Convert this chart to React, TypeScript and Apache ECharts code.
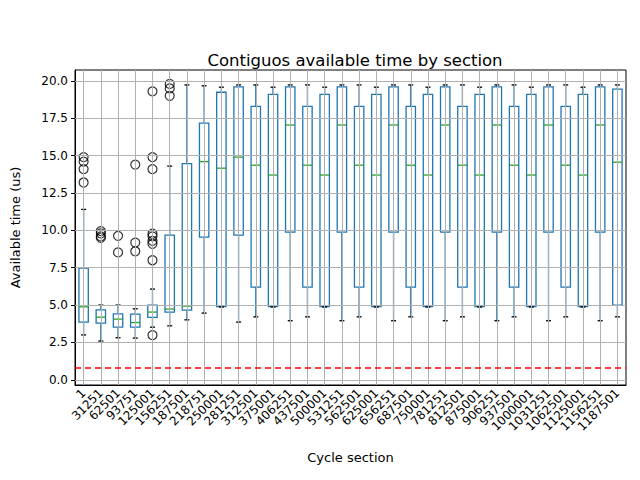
import React, { useEffect, useRef } from "react";
import * as echarts from "echarts";

const categories = ["1","31251","62501","93751","125001","156251","187501","218751","250001","281251","312501","375001","406251","437501","500001","531251","562501","625001","656251","687501","750001","781251","812501","875001","906251","937501","1000001","1031251","1062501","1125001","1156251","1187501"];

const A = [3.95, 9.88, 17.05, 19.6, 19.73];
const B = [4.21, 6.2, 14.36, 18.3, 19.73];
const C = [4.87, 4.9, 13.7, 19.1, 19.58];
// [low whisker, Q1, median, Q3, high whisker]
const boxes = [
  [3.0, 3.86, 4.88, 7.47, 11.4],
  [2.59, 3.79, 4.19, 4.68, 5.0],
  [2.81, 3.52, 4.06, 4.41, 5.0],
  [2.79, 3.52, 3.83, 4.39, 4.75],
  [3.52, 4.17, 4.53, 5.0, 6.07],
  [3.61, 4.53, 4.73, 9.68, 14.3],
  [4.01, 4.66, 4.93, 14.47, 19.73],
  [4.46, 9.54, 14.6, 17.17, 19.67],
  [4.87, 4.9, 14.16, 19.24, 19.58],
  [3.86, 9.68, 14.9, 19.6, 19.73],
  B, C, A, B, C, A, B, C, A, B, C, A, B, C, A, B, C, A, B, C, A,
  [4.21, 5.0, 14.56, 19.45, 19.73],
];
const outliers = [
  [0, 13.2], [0, 14.1], [0, 14.6], [0, 14.9],
  [1, 9.5], [1, 9.6], [1, 9.8], [1, 9.95],
  [2, 9.63], [2, 8.52],
  [3, 14.4], [3, 9.18], [3, 8.6],
  [4, 19.3], [4, 14.9], [4, 14.1], [4, 9.77], [4, 9.6], [4, 9.3], [4, 9.1], [4, 8.0], [4, 2.99],
  [5, 19.8], [5, 19.5], [5, 19.0],
];
const yTicks = [0, 2.5, 5, 7.5, 10, 12.5, 15, 17.5, 20];
const threshold = 0.8;

export default function App() {
  const ref = useRef<HTMLDivElement>(null);
  useEffect(() => {
    const chart = echarts.init(ref.current!, null, { renderer: "svg" });
    const font = "DejaVu Sans";
    chart.setOption({
      animation: false,
      textStyle: { fontFamily: font },
      title: { text: "Contiguos available time by section", left: 350, top: 47, textAlign: "center",
        textStyle: { fontSize: 16.5, fontWeight: "normal", color: "#000", fontFamily: font } },
      grid: { left: 75, right: 14, top: 70, bottom: 95, show: true, borderColor: "#000", borderWidth: 1, backgroundColor: "transparent" },
      xAxis: {
        type: "category", data: categories, boundaryGap: true,
        name: "Cycle section", nameLocation: "middle", nameGap: 66,
        nameTextStyle: { fontSize: 13, color: "#000" },
        axisLine: { lineStyle: { color: "#000" }, onZero: false },
        axisTick: { alignWithLabel: true, lineStyle: { color: "#000" }, length: 4 },
        axisLabel: { rotate: 45, fontSize: 12, color: "#000", interval: 0, margin: 6 },
        splitLine: { show: false },
      },
      yAxis: {
        type: "value", min: -0.35, max: 20.73,
        name: "Available time (us)", nameLocation: "middle", nameGap: 53,
        nameTextStyle: { fontSize: 13, color: "#000" },
        axisLine: { show: true, lineStyle: { color: "#000" } },
        axisTick: { show: true, customValues: yTicks, length: 4, lineStyle: { color: "#000" } },
        axisLabel: { customValues: yTicks, fontSize: 12, color: "#000", margin: 7, formatter: (v: number) => v.toFixed(1) },
        splitLine: { show: false },
      },
      series: [
        {
          type: "line", data: [], silent: true,
          markLine: {
            silent: true, symbol: "none", label: { show: false },
            lineStyle: { color: "#b0b0b0", type: "solid", width: 1 },
            data: [
              ...yTicks.map((v) => ({ yAxis: v })),
              ...categories.map((c) => ({ xAxis: c })),
            ],
          },
        },
        {
          type: "line", data: [], silent: true,
          markLine: {
            silent: true, symbol: "none", label: { show: false },
            lineStyle: { color: "#ff0000", type: [6, 4], width: 1.6 },
            data: [{ yAxis: threshold }],
          },
        },
        {
          type: "custom",
          data: boxes.map((b, i) => [i, ...b]),
          renderItem: (params: any, api: any) => {
            const i = api.value(0);
            const [x, yl] = api.coord([i, api.value(1)]);
            const y1 = api.coord([i, api.value(2)])[1];
            const ym = api.coord([i, api.value(3)])[1];
            const y3 = api.coord([i, api.value(4)])[1];
            const yh = api.coord([i, api.value(5)])[1];
            const hw = 4.7, cw = 2.5;
            const blue = { stroke: "#1f77b4", lineWidth: 1.3, fill: "none" };
            return {
              type: "group",
              children: [
                { type: "line", shape: { x1: x, y1: y1, x2: x, y2: yl }, style: blue },
                { type: "line", shape: { x1: x, y1: y3, x2: x, y2: yh }, style: blue },
                { type: "rect", shape: { x: x - hw, y: y3, width: 2 * hw, height: y1 - y3 }, style: blue },
                { type: "line", shape: { x1: x - hw, y1: ym, x2: x + hw, y2: ym }, style: { stroke: "#2ca02c", lineWidth: 1.3 } },
                { type: "line", shape: { x1: x - cw, y1: yl, x2: x + cw, y2: yl }, style: { stroke: "#000", lineWidth: 1.3 } },
                { type: "line", shape: { x1: x - cw, y1: yh, x2: x + cw, y2: yh }, style: { stroke: "#000", lineWidth: 1.3 } },
              ],
            };
          },
          z: 3,
        },
        {
          type: "scatter", data: outliers, symbol: "circle", symbolSize: 9,
          itemStyle: { color: "transparent", borderColor: "#000", borderWidth: 1.2 }, z: 4,
        },
      ],
    });
    return () => chart.dispose();
  }, []);
  return <div ref={ref} style={{ position: "absolute", left: 0, top: 0, width: 640, height: 480 }} />;
}
